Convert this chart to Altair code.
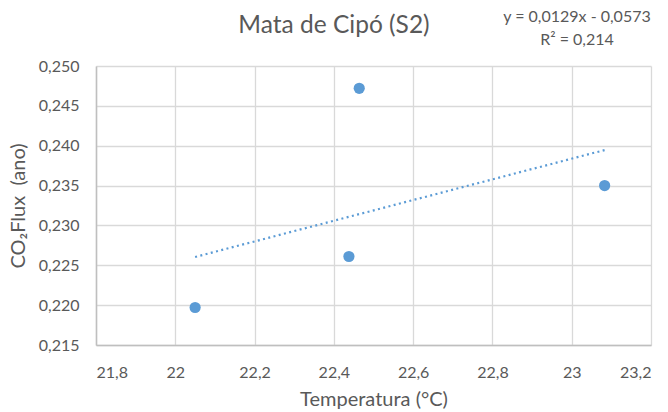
import altair as alt
import pandas as pd

# Measured points: soil temperature vs. annual CO2 flux
temperatura = [22.05, 22.438, 22.464, 23.083]
co2_flux = [0.2197, 0.2261, 0.2472, 0.2350]

# Axis ticks
x_ticks = [21.8, 22.0, 22.2, 22.4, 22.6, 22.8, 23.0, 23.2]
y_ticks = [0.215, 0.220, 0.225, 0.230, 0.235, 0.240, 0.245, 0.250]

# Chart title and trendline equation label
chart_title = "Mata de Cipó (S2)"
equation_lines = ["y = 0,0129x - 0,0573", "R² = 0,214"]

FONT = "Lato"
TEXT_GRAY = "#595959"
BLUE = "#5B9BD5"

df = pd.DataFrame({"temp": temperatura, "flux": co2_flux})

x_enc = alt.X(
    "temp:Q",
    scale=alt.Scale(domain=[x_ticks[0], x_ticks[-1]], nice=False, zero=False),
    axis=alt.Axis(
        values=x_ticks,
        title="Temperatura (°C)",
        labelExpr="replace(format(datum.value, '.1~f'), '.', ',')",
        labelOverlap=False,
        labelPadding=19,
        titlePadding=9,
    ),
)
y_enc = alt.Y(
    "flux:Q",
    scale=alt.Scale(domain=[y_ticks[0], y_ticks[-1]], nice=False, zero=False),
    axis=alt.Axis(
        values=y_ticks,
        title="CO₂Flux\u00a0\u00a0(ano)",
        labelExpr="replace(format(datum.value, '.3f'), '.', ',')",
        labelOverlap=False,
        labelPadding=17,
        titlePadding=10,
    ),
)

points = (
    alt.Chart(df)
    .mark_circle(size=125, color=BLUE, opacity=1)
    .encode(x=x_enc, y=y_enc)
)

trend = (
    alt.Chart(df)
    .transform_regression("temp", "flux")
    .mark_line(color=BLUE, strokeWidth=2.2, strokeDash=[2, 3.4])
    .encode(x=x_enc, y=y_enc)
)

# Single-row source so each label is drawn exactly once
label_src = alt.Chart(pd.DataFrame({"k": [0]}))

title_text = label_src.mark_text(
    text=chart_title,
    font=FONT,
    fontSize=24.5,
    fontWeight="normal",
    color=TEXT_GRAY,
    align="center",
    baseline="middle",
).encode(x=alt.value(238), y=alt.value(-40))

equation = label_src.mark_text(
    text=equation_lines,
    font=FONT,
    fontSize=16,
    fontWeight="normal",
    color=TEXT_GRAY,
    align="center",
    baseline="top",
    lineHeight=23,
).encode(x=alt.value(481), y=alt.value(-57))

chart = (
    alt.layer(trend, points, title_text, equation)
    .properties(
        width=555,
        height=279,
        autosize=alt.AutoSizeParams(type="none"),
        padding={"left": 96, "top": 66, "right": 17, "bottom": 67},
    )
    .configure_view(strokeWidth=0)
    .configure_axis(
        labelFont=FONT,
        titleFont=FONT,
        labelFontSize=16,
        titleFontSize=20,
        titleFontWeight="normal",
        labelColor=TEXT_GRAY,
        titleColor=TEXT_GRAY,
        ticks=False,
        grid=True,
        gridColor="#D9D9D9",
        gridWidth=1.3,
        domainColor="#BFBFBF",
        domainWidth=1.5,
    )
)

chart.save("out.html", embed_options={"renderer": "svg", "actions": False})
